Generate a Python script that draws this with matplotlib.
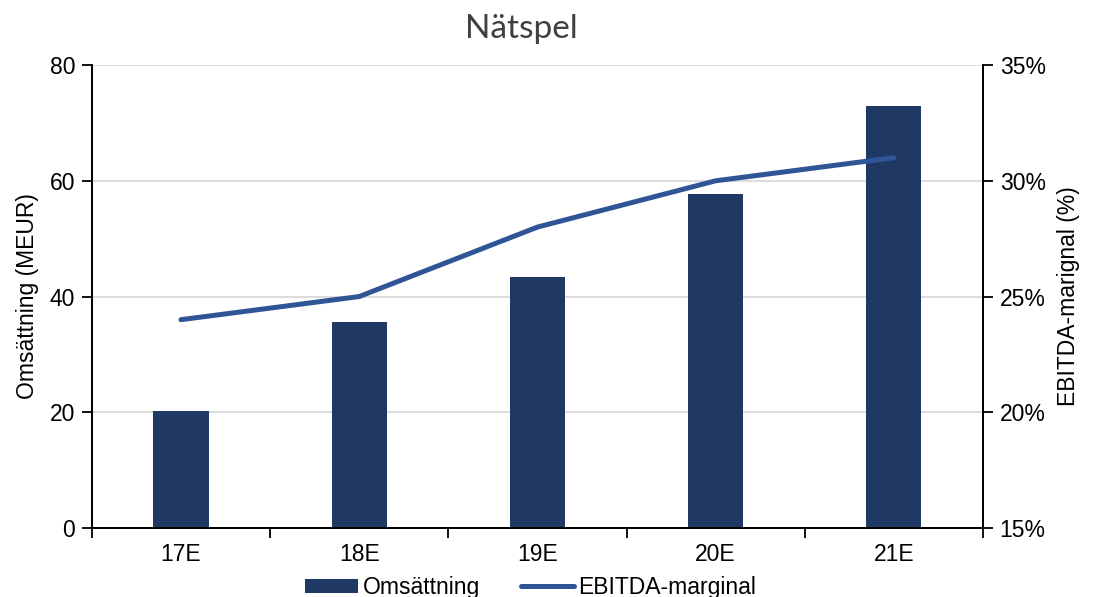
import numpy as np
import matplotlib.pyplot as plt
from matplotlib.ticker import FuncFormatter

years = ["17E", "18E", "19E", "20E", "21E"]
revenue = [20.2, 35.6, 43.4, 57.7, 72.9]          # MEUR
ebitda_margin = [24.0, 25.0, 28.0, 30.0, 31.0]    # %

BAR_COLOR = "#203864"
LINE_COLOR = "#2F5597"
FS = 16.5

plt.rcParams["font.family"] = ["Liberation Sans", "DejaVu Sans"]

fig = plt.figure(figsize=(10.94, 5.97), dpi=100)
ax = fig.add_axes([0.084, 0.1156, 0.8145, 0.7754])
ax2 = ax.twinx()

x = np.arange(len(years))
bars = ax.bar(x, revenue, width=0.31, color=BAR_COLOR, zorder=2, label="Omsättning")
line, = ax2.plot(x, ebitda_margin, color=LINE_COLOR, lw=3.6, solid_capstyle="round",
                 zorder=3, label="EBITDA-marginal")

ax.set_xlim(-0.5, len(years) - 0.5)
ax.set_ylim(0, 80)
ax.set_yticks([0, 20, 40, 60, 80])
ax2.set_ylim(15, 35)
ax2.set_yticks([15, 20, 25, 30, 35])
ax2.yaxis.set_major_formatter(FuncFormatter(lambda v, _: f"{v:.0f}%"))

ax.yaxis.grid(True, color="#d9d9d9", lw=1.3, zorder=0)
ax.set_axisbelow(True)

# category separators on the x axis, labels centred between them
ax.set_xticks(np.arange(len(years) + 1) - 0.5)
ax.set_xticklabels([])
ax.set_xticks(x, minor=True)
ax.set_xticklabels(years, minor=True)
ax.tick_params(axis="x", which="major", direction="out", length=7, width=1.3)
ax.tick_params(axis="x", which="minor", length=0, pad=11, labelsize=FS)
ax.tick_params(axis="y", direction="out", length=7, width=1.3, labelsize=FS, pad=5)
ax2.tick_params(axis="y", direction="out", length=7, width=1.3, labelsize=FS, pad=5)

for a in (ax, ax2):
    a.spines["top"].set_visible(False)
    for s in ("left", "right", "bottom"):
        a.spines[s].set_linewidth(1.3)

ax.set_ylabel("Omsättning (MEUR)", fontsize=FS, labelpad=8)
ax2.set_ylabel("EBITDA-marignal (%)", fontsize=FS, labelpad=8)

fig.text(0.477, 0.976, "Nätspel", fontsize=24, color="#404040", ha="center", va="top",
         family=["Lato", "DejaVu Sans"])

fig.legend([bars, line], ["Omsättning", "EBITDA-marginal"], loc="lower center",
           bbox_to_anchor=(0.485, -0.038), ncol=2, frameon=False, fontsize=FS,
           handlelength=2.3, handleheight=0.6, columnspacing=1.8, handletextpad=0.2)

fig.savefig("out.png", dpi=100)
